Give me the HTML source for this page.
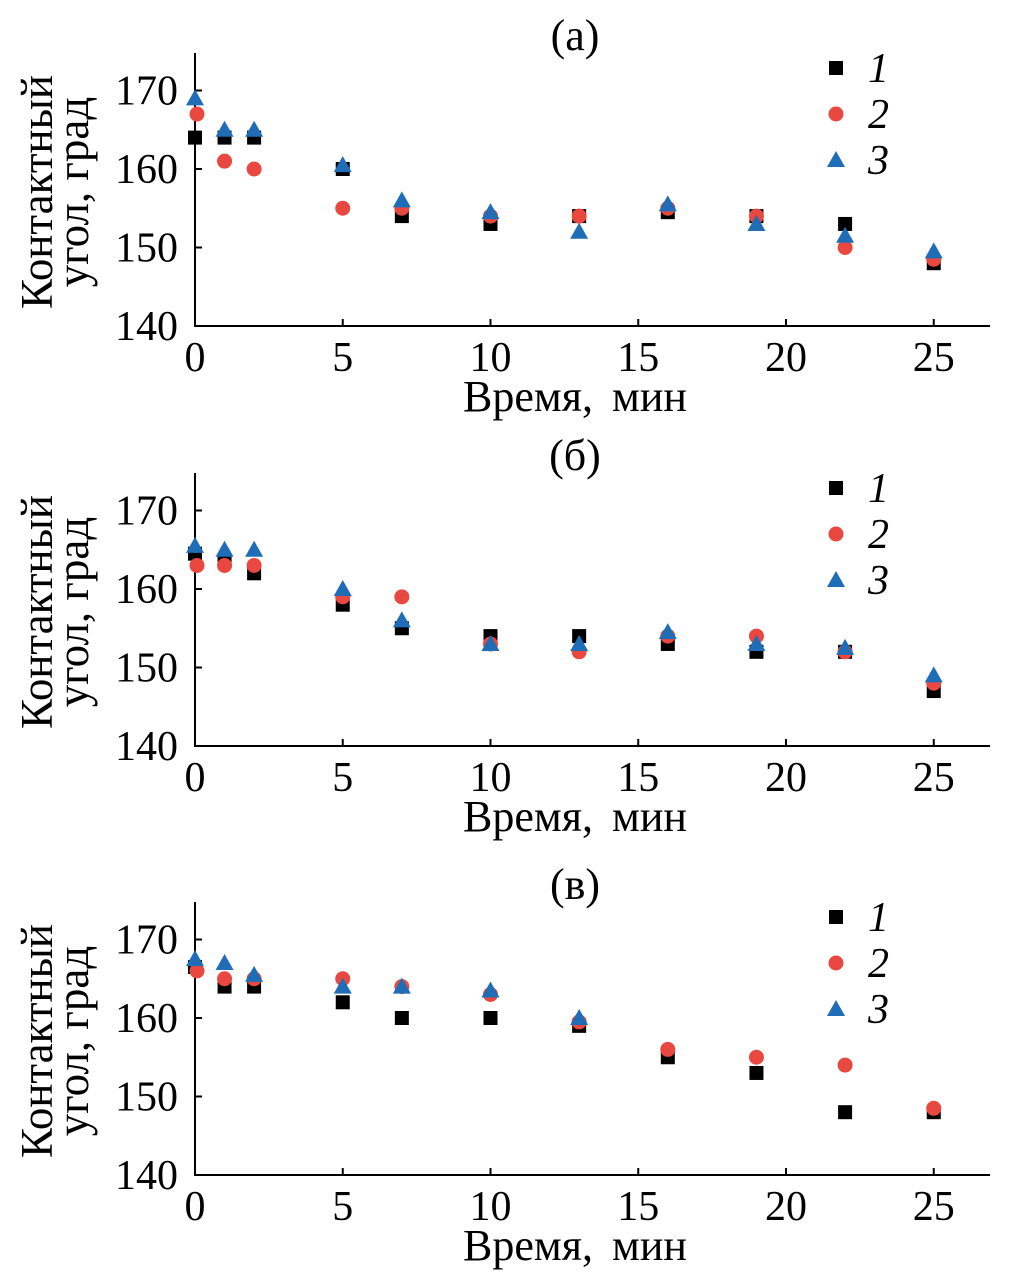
<!DOCTYPE html>
<html><head><meta charset="utf-8"><style>
html,body{margin:0;padding:0;background:#fff}
svg text{font-family:"Liberation Serif",serif;fill:#000}
</style></head><body>
<svg id="chart" width="1010" height="1270" xmlns="http://www.w3.org/2000/svg"></svg>
<script>
const times = [0,1,2,5,7,10,13,16,19,22,25];
const panelTitles = ["(а)","(б)","(в)"];
const yTicks = [140,150,160,170];
const xTicks = [0,5,10,15,20,25];
const legendLabels = ["1","2","3"];
const a1 = [164,164,164,160,154,153,154,154.5,154,153,148];
const a2 = [167,161,160,155,155,154,154,155,154,150,148.5];
const a3 = [169,165,165,160.5,156,154.5,152,155.5,153,151.5,149.5];
const b1 = [164.5,163.5,162,158,155,154,154,153,152,152,147];
const b2 = [163,163,163,159,159,153,152,154,154,152,148];
const b3 = [165.5,165,165,160,156,153,153,154.5,153,152.5,149];
const c1 = [166.5,164,164,162,160,160,159,155,153,148,148];
const c2 = [166,165,165,165,164,163,159.5,156,155,154,148.5];
const c3 = [167.5,167,165.5,164,164,163.5,160,null,null,null,null];
const panels = [[a1,a2,a3],[b1,b2,b3],[c1,c2,c3]];
const offsets = [0,420,849];
const NS="http://www.w3.org/2000/svg";
const svg=document.getElementById('chart');
function mk(tag,attrs,parent,text){const e=document.createElementNS(NS,tag);for(const k in attrs)e.setAttribute(k,attrs[k]);if(text!==undefined)e.textContent=text;(parent||svg).appendChild(e);return e;}
const xS=v=>195+v*29.55;
const colors=["#000","#e8483f","#1f6db6"];
function marker(g,k,x,y){
  let m;
  if(k===0){m=mk('rect',{x:x-7,y:y-7,width:14,height:14,fill:colors[0]},g);}
  else if(k===1){m=mk('circle',{cx:x,cy:y,r:7.5,fill:colors[1]},g);}
  else {m=mk('polygon',{points:`${x},${y-9} ${x+9},${y+7} ${x-9},${y+7}`,fill:colors[2]},g);}
  return m;
}
panels.forEach((series,p)=>{
  const off=offsets[p];
  const yS=v=>326+off-(v-140)*7.85;
  const g=mk('g',{});
  
  
  const ax=mk('path',{d:`M195 ${53+off} V${326+off} H990`,stroke:'#000','stroke-width':2,fill:'none'},g);
  
  
  yTicks.forEach(t=>{
    const y=yS(t);
    if(t>140)mk('line',{x1:195,x2:202,y1:y,y2:y,stroke:'#000','stroke-width':2},g);
    const tl=mk('text',{x:178,y:y+14,'font-size':42,'text-anchor':'end'},g,String(t));
    
    
  });
  xTicks.forEach(t=>{
    const x=xS(t);
    if(t>0)mk('line',{x1:x,x2:x,y1:326+off,y2:319+off,stroke:'#000','stroke-width':2},g);
    const tl=mk('text',{x:x,y:371+off,'font-size':42,'text-anchor':'middle'},g,String(t));
    
    
  });
  const xl=mk('text',{x:575,y:411+off,'font-size':44,'text-anchor':'middle','word-spacing':8},g,'Время, мин');
  
  
  const yl=mk('text',{transform:`translate(52 ${192+off}) rotate(-90)`,'font-size':45,'text-anchor':'middle'},g);
  
  
  mk('tspan',{x:0,y:0},yl,'Контактный');
  mk('tspan',{x:0,y:36},yl,'угол, град');
  const tt=mk('text',{x:575,y:50+off,'font-size':44,'text-anchor':'middle'},g,panelTitles[p]);
  
  
  series.forEach((vals,k)=>{
    vals.forEach((v,i)=>{
      if(v===null)return;
      const m=marker(g,k,xS(times[i])+(k===1&&i===0?2:0),yS(v));
      
      
    });
    const ly=68+off+k*46;
    const lm=marker(g,k,836,ly);
    
    
    const lt=mk('text',{x:868,y:ly+14,'font-size':42,'font-style':'italic'},g,legendLabels[k]);
    
    
  });
});
</script>
</body></html>
